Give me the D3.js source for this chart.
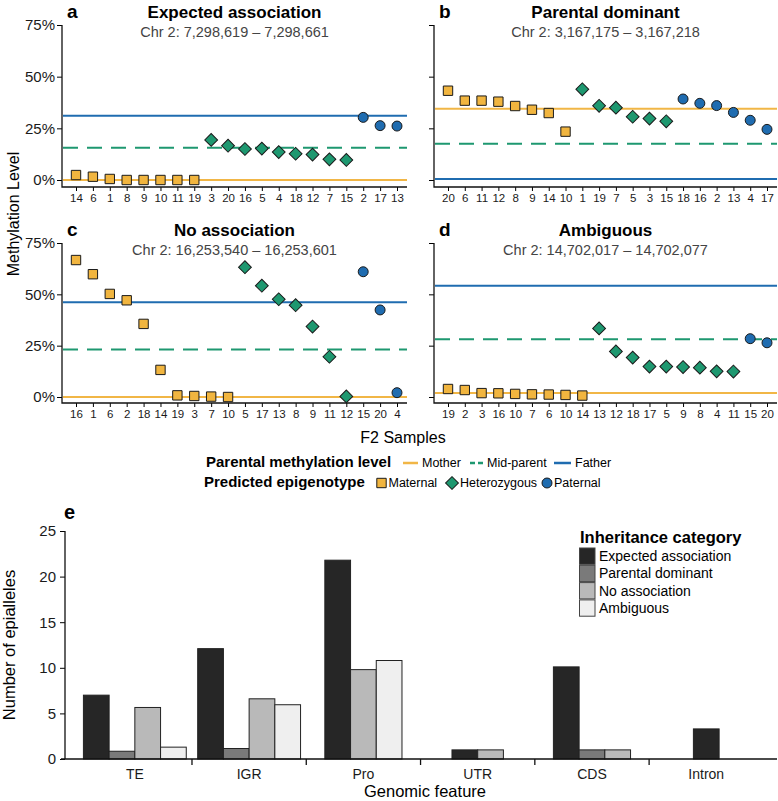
<!DOCTYPE html>
<html lang="en">
<head>
<meta charset="UTF-8">
<title>Epiallele inheritance</title>
<script src="https://d3js.org/d3.v7.min.js"></script>
<style>
    body { margin: 0; background: #fff; }
    svg { display: block; font-family: "Liberation Sans", Arial, sans-serif; }
    .tick text { fill: #1a1a1a; }
    .sub { fill: #444; }
</style>
</head>
<body>
<svg id="fig" width="778" height="801"></svg>
<script>
// ---- panels a-d: F2 sample methylation ----
const panelLetters = ["a", "b", "c", "d"];
const panelTitles = ["Expected association", "Parental dominant", "No association", "Ambiguous"];
const panelRegions = ["Chr 2: 7,298,619 \u2013 7,298,661", "Chr 2: 3,167,175 \u2013 3,167,218",
                      "Chr 2: 16,253,540 \u2013 16,253,601", "Chr 2: 14,702,017 \u2013 14,702,077"];

const aSamples = [14, 6, 1, 8, 9, 10, 11, 19, 3, 20, 16, 5, 4, 18, 12, 7, 15, 2, 17, 13];
const aValues  = [2.4, 1.6, 0.5, 0, 0, 0, 0, 0, 19.4, 16.6, 15.0, 15.2, 13.5, 12.7, 12.3, 10.0, 9.7, 30.3, 26.3, 26.1];
const aGeno    = ["M","M","M","M","M","M","M","M","H","H","H","H","H","H","H","H","H","P","P","P"];

const bSamples = [20, 6, 11, 12, 8, 9, 14, 10, 1, 19, 7, 5, 3, 15, 18, 16, 2, 13, 4, 17];
const bValues  = [43.2, 38.4, 38.4, 37.9, 35.8, 34.0, 32.4, 23.4, 43.9, 35.9, 35.0, 30.6, 29.7, 28.4, 39.2, 37.1, 36.0, 32.7, 28.9, 24.5];
const bGeno    = ["M","M","M","M","M","M","M","M","H","H","H","H","H","H","P","P","P","P","P","P"];

const cSamples = [16, 1, 6, 2, 18, 14, 19, 3, 7, 10, 5, 17, 13, 8, 9, 11, 12, 15, 20, 4];
const cValues  = [66.7, 59.8, 50.2, 47.1, 35.6, 13.2, 0.8, 0.5, 0.2, 0, 63.2, 54.2, 47.6, 44.7, 34.3, 19.6, 0.3, 61.0, 42.4, 2.1];
const cGeno    = ["M","M","M","M","M","M","M","M","M","M","H","H","H","H","H","H","H","P","P","P"];

const dSamples = [19, 2, 3, 16, 10, 7, 6, 10, 14, 13, 12, 18, 17, 5, 9, 8, 4, 11, 15, 20];
const dValues  = [3.9, 3.4, 1.9, 1.8, 1.5, 1.3, 1.2, 1.0, 0.7, 33.4, 22.2, 19.2, 14.8, 14.8, 14.6, 14.3, 12.5, 12.4, 28.4, 26.4];
const dGeno    = ["M","M","M","M","M","M","M","M","M","H","H","H","H","H","H","H","H","H","P","P"];

// parental levels: mother, mid-parent, father
const motherLevel = [0, 34.5, 0, 1.9];
const midLevel    = [15.6, 17.5, 23.1, 28.1];
const fatherLevel = [31.1, 0.5, 46.1, 54.2];

const pctTicks = [0, 25, 50, 75];

// ---- panel e: genomic features ----
const features = ["TE", "IGR", "Pro", "UTR", "CDS", "Intron"];
const categories = ["Expected association", "Parental dominant", "No association", "Ambiguous"];
const expectedCounts  = [7.0, 12.1, 21.8, 1.0, 10.1, 3.3];
const parentalCounts  = [0.85, 1.15, null, null, 1.0, null];
const noAssocCounts   = [5.65, 6.6, 9.8, 1.0, 1.0, null];
const ambiguousCounts = [1.3, 5.95, 10.8, null, null, null];
const countTicks = [0, 5, 10, 15, 20, 25];

const genoColor = {M: "#F1B53F", H: "#1E9870", P: "#1F6CB0"};
const lineColor = {mother: "#F1B646", mid: "#1E9870", father: "#1F6CB0"};
const catFill = ["#262626", "#7a7a7a", "#b9b9b9", "#efefef"];

const svg = d3.select("#fig");

const panels = [
    {samples: aSamples, values: aValues, geno: aGeno, x0: 62,  x1: 407, top: 25,  base: 180, bottom: 187},
    {samples: bSamples, values: bValues, geno: bGeno, x0: 434, x1: 777, top: 25,  base: 180, bottom: 187},
    {samples: cSamples, values: cValues, geno: cGeno, x0: 62,  x1: 407, top: 243, base: 397, bottom: 403},
    {samples: dSamples, values: dValues, geno: dGeno, x0: 434, x1: 777, top: 243, base: 397, bottom: 403}
];

const sym = {
    M: d3.symbol().type(d3.symbolSquare).size(88)(),
    H: d3.symbol().type(d3.symbolSquare).size(82)(),
    P: d3.symbol().type(d3.symbolCircle).size(78)()
};

panels.forEach((p, i) => {
    const g = svg.append("g");
    const idx = d3.range(p.samples.length);

    const x = d3.scalePoint().domain(idx).range([p.x0 + 14, p.x1 - 10]);
    const y = d3.scaleLinear().domain([0, 75]).range([p.base, p.top]);

    // axes
    g.append("g")
        .attr("transform", `translate(0,${p.bottom})`)
        .call(d3.axisBottom(x).tickSize(4).tickPadding(3).tickFormat(j => p.samples[j]))
        .call(a => a.select(".domain").remove())
        .call(a => a.selectAll("text").style("font-size", "11.5px"));

    g.append("g")
        .attr("transform", `translate(${p.x0},0)`)
        .call(d3.axisLeft(y).tickValues(pctTicks).tickSize(5).tickPadding(2)
              .tickFormat(d => (i % 2 === 0) ? d + "%" : ""))
        .call(a => a.select(".domain").remove())
        .call(a => a.selectAll("text").style("font-size", "15px"));

    g.append("path")
        .attr("d", `M${p.x0},${p.top}V${p.bottom}H${p.x1}`)
        .attr("fill", "none").attr("stroke", "#111").attr("stroke-width", 1.3);

    // parental lines
    const lines = [
        {v: motherLevel[i], c: lineColor.mother, dash: null},
        {v: midLevel[i], c: lineColor.mid, dash: "15,9"},
        {v: fatherLevel[i], c: lineColor.father, dash: null}
    ];
    g.selectAll(".ref").data(lines).enter().append("line")
        .attr("x1", p.x0 + 1).attr("x2", p.x1)
        .attr("y1", d => y(d.v)).attr("y2", d => y(d.v))
        .attr("stroke", d => d.c).attr("stroke-width", 2)
        .attr("stroke-dasharray", d => d.dash);

    // points
    g.selectAll(".pt").data(idx).enter().append("path")
        .attr("d", j => sym[p.geno[j]])
        .attr("transform", j => `translate(${x(j)},${y(p.values[j])})` + (p.geno[j] === "H" ? " rotate(45)" : ""))
        .attr("fill", j => genoColor[p.geno[j]])
        .attr("stroke", "#1a1a1a").attr("stroke-width", 1);

    // titles
    const cx = (p.x0 + p.x1) / 2;
    g.append("text").attr("x", p.x0 + 5).attr("y", p.top - 7)
        .style("font-size", "19px").style("font-weight", "bold").text(panelLetters[i]);
    g.append("text").attr("x", cx).attr("y", p.top - 7).attr("text-anchor", "middle")
        .style("font-size", "17px").style("font-weight", "bold").text(panelTitles[i]);
    g.append("text").attr("class", "sub").attr("x", cx).attr("y", p.top + 12).attr("text-anchor", "middle")
        .style("font-size", "14.5px").text(panelRegions[i]);
});

svg.append("text")
    .attr("transform", "translate(19,214) rotate(-90)")
    .attr("text-anchor", "middle").style("font-size", "16px")
    .text("Methylation Level");
svg.append("text").attr("x", 403).attr("y", 443).attr("text-anchor", "middle")
    .style("font-size", "16px").text("F2 Samples");

// legend for a-d
const leg = svg.append("g");
leg.append("text").attr("x", 206).attr("y", 467).style("font-size", "15px").style("font-weight", "bold")
    .text("Parental methylation level");
leg.append("text").attr("x", 204).attr("y", 487).style("font-size", "15px").style("font-weight", "bold")
    .text("Predicted epigenotype");

const lineItems = [
    {label: "Mother", c: lineColor.mother, dash: null, x: 403, w: 15},
    {label: "Mid-parent", c: lineColor.mid, dash: "5,3", x: 470, w: 13},
    {label: "Father", c: lineColor.father, dash: null, x: 554, w: 17}
];
lineItems.forEach(d => {
    leg.append("line").attr("x1", d.x).attr("x2", d.x + d.w).attr("y1", 463).attr("y2", 463)
        .attr("stroke", d.c).attr("stroke-width", 2.5).attr("stroke-dasharray", d.dash);
    leg.append("text").attr("x", d.x + d.w + 4).attr("y", 467).style("font-size", "12.5px").text(d.label);
});

const genoItems = [
    {label: "Maternal", k: "M", x: 381.5},
    {label: "Heterozygous", k: "H", x: 452},
    {label: "Paternal", k: "P", x: 547}
];
genoItems.forEach(d => {
    leg.append("path").attr("d", sym[d.k])
        .attr("transform", `translate(${d.x},483)` + (d.k === "H" ? " rotate(45)" : ""))
        .attr("fill", genoColor[d.k]).attr("stroke", "#1a1a1a").attr("stroke-width", 1);
    leg.append("text").attr("x", d.x + (d.k === "H" ? 8 : 7)).attr("y", 487)
        .style("font-size", "12.5px").text(d.label);
});

// ---- panel e ----
const e = svg.append("g");
const ex0 = 65, ex1 = 777, eTop = 531, eBase = 759;
const series = [expectedCounts, parentalCounts, noAssocCounts, ambiguousCounts];

const xg = d3.scaleBand().domain(features).range([77.7, 763.4]).padding(0);
const ye = d3.scaleLinear().domain([0, 25]).range([eBase, eTop]);
const barW = xg.bandwidth() * 0.225;

e.append("g")
    .attr("transform", `translate(${ex0},0)`)
    .call(d3.axisLeft(ye).tickValues(countTicks).tickSize(5).tickPadding(4))
    .call(a => a.select(".domain").remove())
    .call(a => a.selectAll("text").style("font-size", "15px"));

e.append("g")
    .attr("transform", `translate(0,${eBase})`)
    .call(d3.axisBottom(xg).tickSize(0).tickPadding(10))
    .call(a => a.select(".domain").remove())
    .call(a => a.selectAll("text").style("font-size", "14px"));

e.selectAll(".sep").data(features.slice(1)).enter().append("line")
    .attr("x1", d => xg(d)).attr("x2", d => xg(d))
    .attr("y1", eBase).attr("y2", eBase + 6)
    .attr("stroke", "#111").attr("stroke-width", 1.3);

const barData = [];
features.forEach((f, fi) => {
    const present = series.map((s, si) => ({si, v: s[fi]})).filter(d => d.v != null);
    const start = xg(f) + xg.bandwidth() / 2 - present.length * barW / 2;
    present.forEach((d, k) => barData.push({f, si: d.si, v: d.v, x: start + k * barW}));
});

e.selectAll(".bar").data(barData).enter().append("rect")
    .attr("x", d => d.x).attr("width", barW)
    .attr("y", d => ye(d.v)).attr("height", d => eBase - ye(d.v))
    .attr("fill", d => catFill[d.si])
    .attr("stroke", "#222").attr("stroke-width", 1);

e.append("path")
    .attr("d", `M${ex0},${eTop}V${eBase}M61,${eBase}H${ex1}`)
    .attr("fill", "none").attr("stroke", "#111").attr("stroke-width", 1.3);

e.append("text").attr("x", 64).attr("y", 519)
    .style("font-size", "20px").style("font-weight", "bold").text("e");
e.append("text")
    .attr("transform", "translate(15,645) rotate(-90)")
    .attr("text-anchor", "middle").style("font-size", "16.5px").text("Number of epialleles");
e.append("text").attr("x", 425).attr("y", 797).attr("text-anchor", "middle")
    .style("font-size", "16.5px").text("Genomic feature");

// legend e
const le = e.append("g").attr("transform", "translate(579,0)");
le.append("text").attr("x", 1).attr("y", 543).style("font-size", "16.5px").style("font-weight", "bold")
    .text("Inheritance category");
categories.forEach((c, k) => {
    const yy = 548 + k * 17.3;
    le.append("rect").attr("x", 0.5).attr("y", yy).attr("width", 15.5).attr("height", 16.3)
        .attr("fill", catFill[k]).attr("stroke", "#444").attr("stroke-width", 1);
    le.append("text").attr("x", 20).attr("y", yy + 13).style("font-size", "14px").text(c);
});
</script>
</body>
</html>
